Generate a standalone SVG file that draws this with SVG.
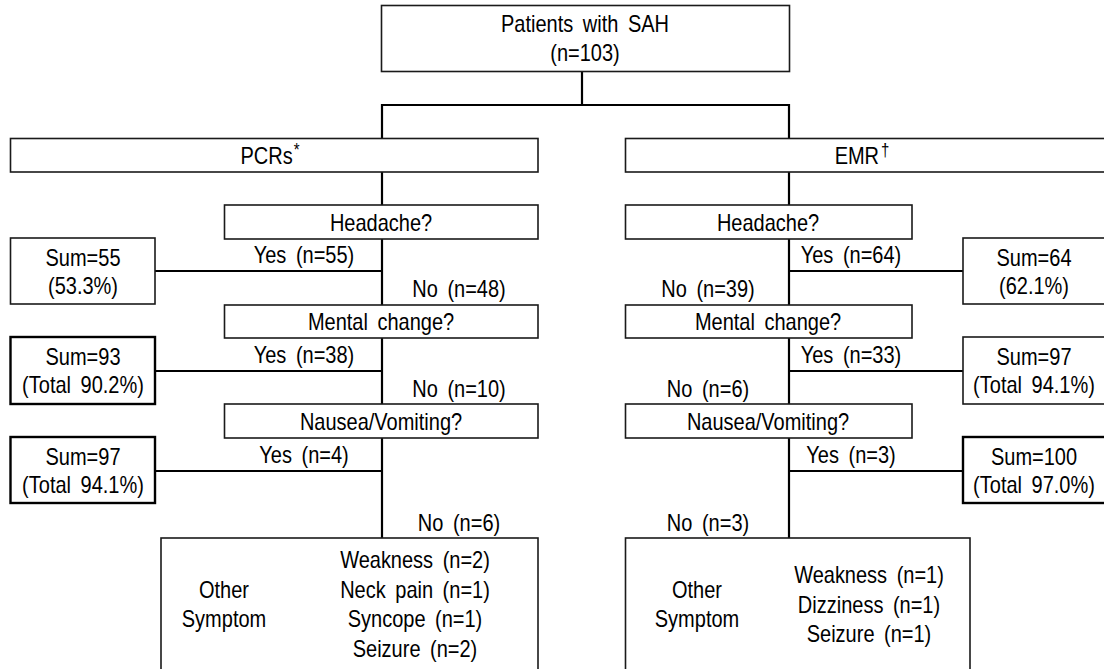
<svg xmlns="http://www.w3.org/2000/svg" width="1104" height="669" viewBox="0 0 1104 669">
<style>
.box{fill:#fff;stroke:#1a1a1a;stroke-width:1.6}
.bold{stroke:#000;stroke-width:2.4}
.con{fill:none;stroke:#000;stroke-width:2.2}
text{font-family:"Liberation Sans",Arial,sans-serif;font-size:20px;fill:#000;text-anchor:middle;word-spacing:4px}
.sup{font-size:15px}
</style>
<rect width="1104" height="669" fill="#fff"/>
<g id="connectors">
<path class="con" d="M582 71V105M382 138V105H789V138M382 172V205M789 172V205"/>
<path class="con" d="M382 239V305M382 338V404M382 438V538M155 271H382M155 371H382M155 471H382"/>
<path class="con" d="M789 239V305M789 338V404M789 438V538M789 271H963M789 371H963M789 471H963"/>
</g>
<g id="root">
<rect class="box" x="381.5" y="5.5" width="408" height="66"/>
<text transform="translate(585,32) scale(1,1.2)">Patients with SAH</text>
<text transform="translate(585,61) scale(1,1.2)">(n=103)</text>
</g>
<g id="pcrs">
<rect class="box" x="10.5" y="138.5" width="527.5" height="33.5"/>
<text transform="translate(270,164) scale(1,1.2)">PCRs<tspan class="sup" dx="1" dy="-7">*</tspan></text>
</g>
<g id="emr">
<rect class="box" x="625.5" y="138.5" width="481" height="33.5"/>
<text transform="translate(862,164) scale(1,1.2)">EMR<tspan class="sup" dx="2" dy="-7">†</tspan></text>
</g>
<g id="headache-l">
<rect class="box" x="224.5" y="205" width="313.5" height="34"/>
<text transform="translate(381,231) scale(1,1.2)">Headache?</text>
</g>
<g id="mental-l">
<rect class="box" x="224.5" y="305" width="313.5" height="33"/>
<text transform="translate(381,330) scale(1,1.2)">Mental change?</text>
</g>
<g id="nausea-l">
<rect class="box" x="224.5" y="404" width="313.5" height="34"/>
<text transform="translate(381,430) scale(1,1.2)">Nausea/Vomiting?</text>
</g>
<g id="headache-r">
<rect class="box" x="625.5" y="205" width="286.5" height="34"/>
<text transform="translate(768,231) scale(1,1.2)">Headache?</text>
</g>
<g id="mental-r">
<rect class="box" x="625.5" y="305" width="286.5" height="33"/>
<text transform="translate(768,330) scale(1,1.2)">Mental change?</text>
</g>
<g id="nausea-r">
<rect class="box" x="625.5" y="404" width="286.5" height="34"/>
<text transform="translate(768,430) scale(1,1.2)">Nausea/Vomiting?</text>
</g>
<g id="sum55">
<rect class="box" x="10.5" y="238" width="144.5" height="66"/>
<text transform="translate(83,266) scale(1,1.2)">Sum=55</text>
<text transform="translate(83,294) scale(1,1.2)">(53.3%)</text>
</g>
<g id="sum93">
<rect class="box bold" x="10.5" y="337" width="144.5" height="67"/>
<text transform="translate(83,365) scale(1,1.2)">Sum=93</text>
<text transform="translate(83,393) scale(1,1.2)">(Total 90.2%)</text>
</g>
<g id="sum97l">
<rect class="box bold" x="10.5" y="437" width="144.5" height="66"/>
<text transform="translate(83,465) scale(1,1.2)">Sum=97</text>
<text transform="translate(83,493) scale(1,1.2)">(Total 94.1%)</text>
</g>
<g id="sum64">
<rect class="box" x="963" y="238" width="143" height="66"/>
<text transform="translate(1034,266) scale(1,1.2)">Sum=64</text>
<text transform="translate(1034,294) scale(1,1.2)">(62.1%)</text>
</g>
<g id="sum97r">
<rect class="box" x="963" y="337" width="143" height="67"/>
<text transform="translate(1034,365) scale(1,1.2)">Sum=97</text>
<text transform="translate(1034,393) scale(1,1.2)">(Total 94.1%)</text>
</g>
<g id="sum100">
<rect class="box bold" x="963" y="437" width="143" height="66"/>
<text transform="translate(1034,465) scale(1,1.2)">Sum=100</text>
<text transform="translate(1034,493) scale(1,1.2)">(Total 97.0%)</text>
</g>
<g id="labels">
<text transform="translate(304,263) scale(1,1.2)">Yes (n=55)</text>
<text transform="translate(459,297) scale(1,1.2)">No (n=48)</text>
<text transform="translate(304,363) scale(1,1.2)">Yes (n=38)</text>
<text transform="translate(459,397) scale(1,1.2)">No (n=10)</text>
<text transform="translate(304,463) scale(1,1.2)">Yes (n=4)</text>
<text transform="translate(459,531) scale(1,1.2)">No (n=6)</text>
<text transform="translate(851,263) scale(1,1.2)">Yes (n=64)</text>
<text transform="translate(708,297) scale(1,1.2)">No (n=39)</text>
<text transform="translate(851,363) scale(1,1.2)">Yes (n=33)</text>
<text transform="translate(708,397) scale(1,1.2)">No (n=6)</text>
<text transform="translate(851,463) scale(1,1.2)">Yes (n=3)</text>
<text transform="translate(708,531) scale(1,1.2)">No (n=3)</text>
</g>
<g id="other-l">
<rect class="box" x="161" y="538" width="377" height="140"/>
<text transform="translate(224,598) scale(1,1.2)">Other</text>
<text transform="translate(224,627) scale(1,1.2)">Symptom</text>
<text transform="translate(415,568) scale(1,1.2)">Weakness (n=2)</text>
<text transform="translate(415,598) scale(1,1.2)">Neck pain (n=1)</text>
<text transform="translate(415,627) scale(1,1.2)">Syncope (n=1)</text>
<text transform="translate(415,657) scale(1,1.2)">Seizure (n=2)</text>
</g>
<g id="other-r">
<rect class="box" x="625.5" y="538" width="344.5" height="140"/>
<text transform="translate(697,598) scale(1,1.2)">Other</text>
<text transform="translate(697,627) scale(1,1.2)">Symptom</text>
<text transform="translate(869,583) scale(1,1.2)">Weakness (n=1)</text>
<text transform="translate(869,613) scale(1,1.2)">Dizziness (n=1)</text>
<text transform="translate(869,642) scale(1,1.2)">Seizure (n=1)</text>
</g>
</svg>
